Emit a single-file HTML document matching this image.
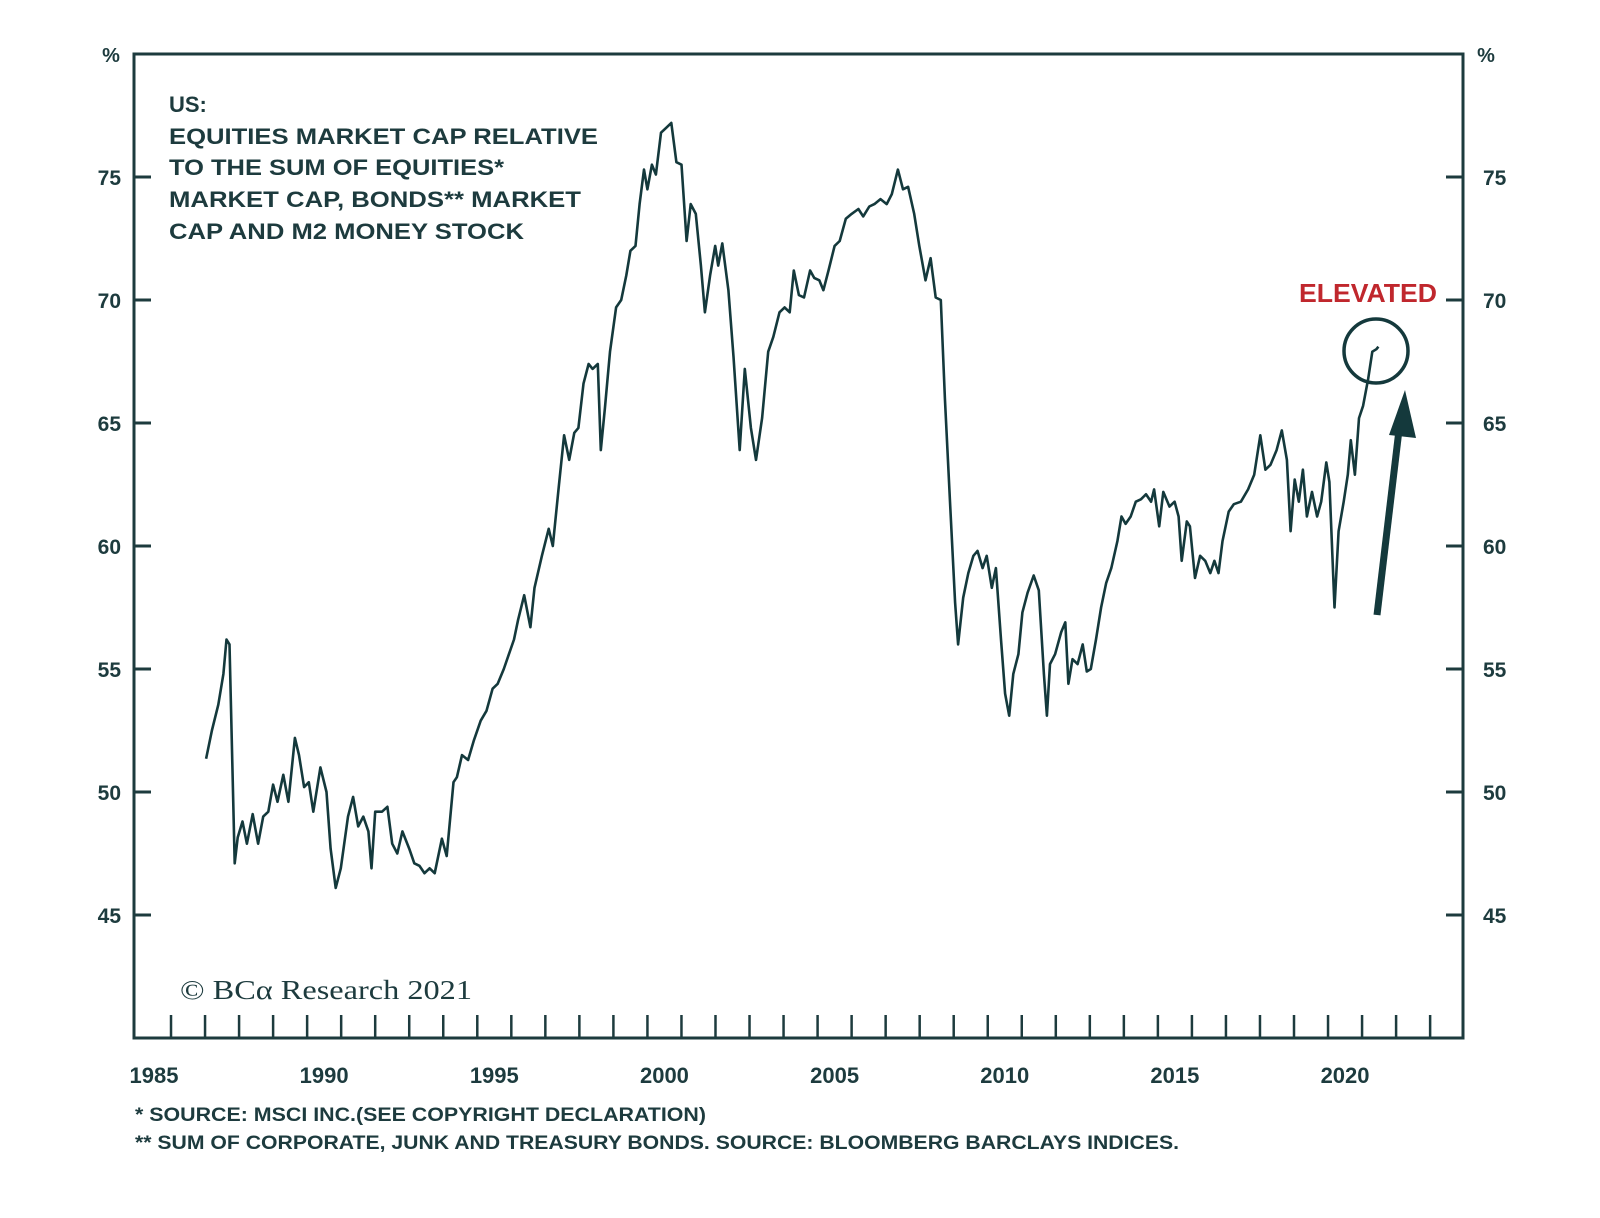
<!DOCTYPE html>
<html><head><meta charset="utf-8"><style>
html,body{margin:0;padding:0;background:#fff;}
svg{display:block;font-family:"Liberation Sans",sans-serif;}
</style></head><body>
<svg id="chart" width="1600" height="1218" viewBox="0 0 1600 1218" xmlns="http://www.w3.org/2000/svg">
<rect x="0" y="0" width="1600" height="1218" fill="#fff"/>
<g id="axes"></g>
<g id="series"></g>
<g fill="#1d3b3e" font-weight="bold" font-size="22">
<text x="169" y="112">US:</text>
<text x="169" y="144" textLength="429" lengthAdjust="spacingAndGlyphs">EQUITIES MARKET CAP RELATIVE</text>
<text x="169" y="175" textLength="335" lengthAdjust="spacingAndGlyphs">TO THE SUM OF EQUITIES*</text>
<text x="169" y="207" textLength="412" lengthAdjust="spacingAndGlyphs">MARKET CAP, BONDS** MARKET</text>
<text x="169" y="239" textLength="355" lengthAdjust="spacingAndGlyphs">CAP AND M2 MONEY STOCK</text>
</g>
<text x="180" y="999" font-family="Liberation Serif,serif" font-size="27" fill="#1d3b3e" textLength="292" lengthAdjust="spacingAndGlyphs">© BCα Research 2021</text>
<text x="1299" y="302" font-size="26" font-weight="bold" fill="#c0272d" textLength="138" lengthAdjust="spacingAndGlyphs">ELEVATED</text>
<circle cx="1376" cy="351" r="32" fill="none" stroke="#14393c" stroke-width="3.5"/>
<g>
<line x1="1377" y1="615" x2="1399" y2="430" stroke="#14393c" stroke-width="7"/>
<polygon points="1405,390 1389,435 1416,438" fill="#14393c"/>
</g>
<g fill="#1d3b3e" font-weight="bold" font-size="19">
<text x="135" y="1121" textLength="571" lengthAdjust="spacingAndGlyphs">*  SOURCE: MSCI INC.(SEE COPYRIGHT DECLARATION)</text>
<text x="135" y="1149" textLength="1044" lengthAdjust="spacingAndGlyphs">** SUM OF CORPORATE, JUNK AND TREASURY BONDS. SOURCE: BLOOMBERG BARCLAYS INDICES.</text>
</g>
</svg>
<script>
const years=[1987.03,1987.2,1987.39,1987.54,1987.63,1987.72,1987.87,1987.96,1988.1,1988.23,1988.4,1988.56,1988.71,1988.86,1989.0,1989.13,1989.3,1989.45,1989.64,1989.76,1989.91,1990.05,1990.18,1990.39,1990.57,1990.69,1990.84,1990.99,1991.2,1991.35,1991.5,1991.65,1991.8,1991.89,1992.0,1992.2,1992.36,1992.5,1992.65,1992.8,1993.0,1993.15,1993.3,1993.45,1993.6,1993.75,1993.96,1994.1,1994.3,1994.4,1994.55,1994.73,1994.9,1995.1,1995.27,1995.45,1995.6,1995.78,1995.93,1996.08,1996.2,1996.38,1996.56,1996.68,1996.9,1997.1,1997.22,1997.4,1997.55,1997.7,1997.85,1997.97,1998.12,1998.27,1998.39,1998.54,1998.63,1998.75,1998.9,1999.08,1999.23,1999.38,1999.5,1999.65,1999.77,1999.9,2000.0,2000.13,2000.25,2000.4,2000.55,2000.7,2000.85,2001.0,2001.15,2001.27,2001.42,2001.57,2001.69,2001.84,2001.99,2002.08,2002.2,2002.38,2002.53,2002.71,2002.86,2003.04,2003.19,2003.37,2003.55,2003.7,2003.88,2004.03,2004.18,2004.3,2004.45,2004.6,2004.78,2004.9,2005.05,2005.17,2005.32,2005.5,2005.65,2005.83,2006.0,2006.2,2006.34,2006.52,2006.67,2006.85,2007.03,2007.18,2007.36,2007.51,2007.66,2007.84,2007.99,2008.17,2008.32,2008.47,2008.62,2008.74,2008.89,2009.04,2009.13,2009.28,2009.43,2009.58,2009.7,2009.85,2009.97,2010.12,2010.24,2010.39,2010.51,2010.63,2010.75,2010.9,2011.02,2011.17,2011.35,2011.5,2011.65,2011.74,2011.83,2011.98,2012.16,2012.28,2012.37,2012.49,2012.64,2012.79,2012.91,2013.03,2013.18,2013.33,2013.48,2013.63,2013.81,2013.93,2014.05,2014.2,2014.35,2014.5,2014.65,2014.8,2014.89,2015.04,2015.16,2015.34,2015.49,2015.61,2015.7,2015.85,2015.94,2016.09,2016.24,2016.39,2016.54,2016.66,2016.78,2016.9,2017.08,2017.23,2017.44,2017.65,2017.83,2018.01,2018.16,2018.31,2018.49,2018.64,2018.79,2018.9,2019.02,2019.14,2019.26,2019.38,2019.53,2019.68,2019.8,2019.95,2020.04,2020.19,2020.31,2020.46,2020.58,2020.67,2020.79,2020.91,2021.03,2021.18,2021.3,2021.42,2021.48];
const values=[51.35,52.5,53.55,54.8,56.2,56.0,47.1,48.15,48.8,47.9,49.1,47.9,49.0,49.2,50.3,49.6,50.7,49.6,52.2,51.5,50.2,50.4,49.2,51.0,50.0,47.7,46.1,46.9,49.0,49.8,48.6,49.0,48.4,46.9,49.2,49.2,49.4,47.9,47.5,48.4,47.7,47.1,47.0,46.7,46.9,46.7,48.1,47.4,50.4,50.6,51.5,51.3,52.1,52.9,53.3,54.2,54.4,55.0,55.6,56.2,57.0,58.0,56.7,58.3,59.6,60.7,60.0,62.5,64.5,63.5,64.6,64.8,66.6,67.4,67.2,67.4,63.9,65.6,67.9,69.7,70.0,71.0,72.0,72.2,73.9,75.3,74.5,75.5,75.1,76.8,77.0,77.2,75.6,75.5,72.4,73.9,73.5,71.4,69.5,71.0,72.2,71.4,72.3,70.4,67.7,63.9,67.2,64.8,63.5,65.2,67.9,68.5,69.5,69.7,69.5,71.2,70.2,70.1,71.2,70.9,70.8,70.4,71.2,72.2,72.4,73.3,73.5,73.7,73.4,73.8,73.9,74.1,73.9,74.3,75.3,74.5,74.6,73.5,72.2,70.8,71.7,70.1,70.0,66.0,61.8,57.7,56.0,57.9,58.9,59.6,59.8,59.1,59.6,58.3,59.1,56.2,54.0,53.1,54.8,55.6,57.3,58.1,58.8,58.2,54.8,53.1,55.2,55.6,56.5,56.9,54.4,55.4,55.2,56.0,54.9,55.0,56.2,57.5,58.5,59.1,60.2,61.2,60.9,61.2,61.8,61.9,62.1,61.8,62.3,60.8,62.2,61.6,61.8,61.2,59.4,61.0,60.8,58.7,59.6,59.4,58.9,59.4,58.9,60.2,61.4,61.7,61.8,62.3,62.9,64.5,63.1,63.3,63.9,64.7,63.5,60.6,62.7,61.8,63.1,61.2,62.2,61.2,61.8,63.4,62.6,57.5,60.6,61.8,62.9,64.3,62.9,65.2,65.7,66.8,67.9,68.0,68.1];
const yTicks=[45,50,55,60,65,70,75];
const xLabels=[1985,1990,1995,2000,2005,2010,2015,2020];
const xTickYears=[1986,1987,1988,1989,1990,1991,1992,1993,1994,1995,1996,1997,1998,1999,2000,2001,2002,2003,2004,2005,2006,2007,2008,2009,2010,2011,2012,2013,2014,2015,2016,2017,2018,2019,2020,2021,2022,2023];

const L=134,R=1463,T=54,B=1038;
const yMin=40,yMax=80;
function ys(v){return B-(v-yMin)/(yMax-yMin)*(B-T);}
function xs(t){return 154+(t-1985.5)*34.03;}
const NS="http://www.w3.org/2000/svg";
const C="#1d3b3e";
function mk(tag,attrs,parent){const e=document.createElementNS(NS,tag);for(const k in attrs)e.setAttribute(k,attrs[k]);parent.appendChild(e);return e;}
const ax=document.getElementById('axes');
const frame=mk('rect',{x:L,y:T,width:R-L,height:B-T,fill:'none',stroke:C,'stroke-width':3},ax);


yTicks.forEach(v=>{
  const y=ys(v);
  const t1=mk('line',{x1:L,y1:y,x2:L+17,y2:y,stroke:C,'stroke-width':3},ax);
  
  
  const t2=mk('line',{x1:R-17,y1:y,x2:R,y2:y,stroke:C,'stroke-width':3},ax);
  
  
  const l1=mk('text',{x:121,y:y+8,'text-anchor':'end','font-size':21,'font-weight':'bold',fill:C},ax);
  l1.textContent=v;
  
  
  const l2=mk('text',{x:1483,y:y+8,'font-size':21,'font-weight':'bold',fill:C},ax);
  l2.textContent=v;
  
  
});
const p1=mk('text',{x:111,y:62,'text-anchor':'middle','font-size':20,'font-weight':'bold',fill:C},ax);
p1.textContent='%';


const p2=mk('text',{x:1486,y:62,'text-anchor':'middle','font-size':20,'font-weight':'bold',fill:C},ax);
p2.textContent='%';


xTickYears.forEach(yr=>{
  const x=xs(yr);
  const t=mk('line',{x1:x,y1:B,x2:x,y2:B-23,stroke:C,'stroke-width':2.5},ax);
  
  
});
xLabels.forEach(yr=>{
  const t=mk('text',{x:xs(yr+0.5),y:1083,'text-anchor':'middle','font-size':22,'font-weight':'bold',fill:C},ax);
  t.textContent=yr;
  
  
});
const sg=document.getElementById('series');
let d='';
years.forEach((t,i)=>{d+=(i?'L':'M')+xs(t).toFixed(1)+','+ys(values[i]).toFixed(1);});
const path=mk('path',{d:d,fill:'none',stroke:'#14393c','stroke-width':2.6,'stroke-linejoin':'round'},sg);


</script>
</body></html>
